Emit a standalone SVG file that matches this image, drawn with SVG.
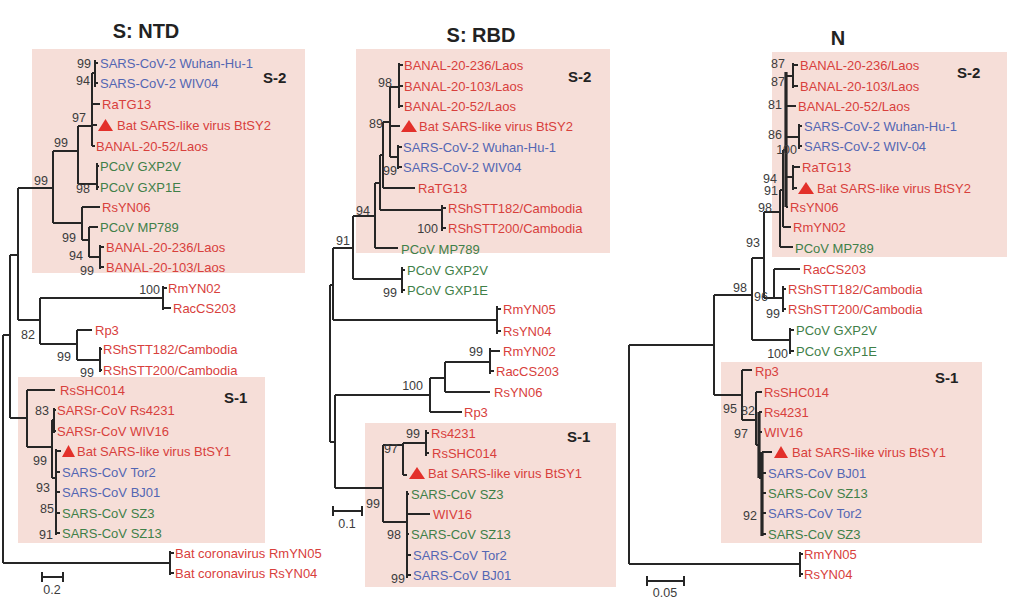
<svg xmlns="http://www.w3.org/2000/svg" width="1029" height="614" viewBox="0 0 1029 614">
<style>
.l{fill:none;stroke:#262626;stroke-width:2}
.tk{fill:none;stroke:#262626;stroke-width:3.2}
text{font-family:"Liberation Sans",Arial,sans-serif}
.r{fill:#d8403c;font-size:13px}
.b{fill:#5366b3;font-size:13px}
.g{fill:#3f8048;font-size:13px}
.n{fill:#3c3c3c;font-size:12.5px;text-anchor:end}
.h{font-size:20px;font-weight:bold;fill:#222;text-anchor:middle}
.c{font-size:15px;font-weight:bold;fill:#222}
.s{fill:#3c3c3c;font-size:12.5px;text-anchor:middle}
.bx{fill:#f6ded8}
.tri{fill:#e3302a}
</style>
<rect width="1029" height="614" fill="#fff"/>
<g id="boxes">
<rect class="bx" x="32" y="49" width="273" height="224"/>
<rect class="bx" x="18" y="377" width="247" height="166"/>
<rect class="bx" x="356" y="49" width="254" height="204"/>
<rect class="bx" x="365" y="423" width="251" height="164"/>
<rect class="bx" x="772" y="52" width="235" height="205"/>
<rect class="bx" x="721" y="362" width="261" height="181"/>
</g>
<g id="titles">
<text class="h" x="146" y="38">S: NTD</text>
<text class="h" x="481" y="42">S: RBD</text>
<text class="h" x="838" y="45">N</text>
<text class="c" x="263" y="83">S-2</text>
<text class="c" x="224" y="403">S-1</text>
<text class="c" x="568" y="82">S-2</text>
<text class="c" x="567" y="442">S-1</text>
<text class="c" x="957" y="78">S-2</text>
<text class="c" x="935" y="383">S-1</text>
</g>
<g id="connectors">
<path class="l" d="M95,60V87M95,63H98M95,83H98M92,73V146M92,73H95M92,104H100M92,125H97M92,146H95M78,126H92M78,126V184M78,184H97M97,163V190M97,166H99M97,187H99M53,151H78M53,151V223M53,223H82M82,207V240M82,207H100M82,240H89M89,227V257M89,227H98M89,257H100M100,245V269M100,247H104M100,267H104M18,188H53M18,188V320M18,320H40M40,298V344M40,298H163M163,286V310M163,288H167M163,308H171M40,344H77M77,330V360M77,330H92M77,360H100M100,347V372M100,349H102M100,370H102M10,255H18M10,255V418M10,418H27M27,390V447M27,390H55M27,447H52M52,420V478M52,420H54M54,408V433M54,410H56M54,431H56M52,478H56M56,449V535M56,451H61M56,472H60M56,492H60M56,513H60M56,533H60M3,335H10M3,335V563M3,563H170M170,551V575M170,553H174M170,573H174"/>
<path class="l" d="M399,63V108M399,65H403M399,86H403M399,106H403M390,87H399M390,87V157M390,126H400M390,157H398M398,145V169M398,147H402M398,167H402M383,122H390M383,122V188M383,188H415M380,155H383M380,155V210M380,210H442M442,205V231M442,208H446M442,228H446M375,183H380M375,183V248M375,248H398M353,216H375M353,216V279M353,279H402M402,267V293M402,270H405M402,290H405M333,248H353M333,248V320M333,320H497M497,306V334M497,309H501M497,331H501M330,285H333M330,285V442M330,442H335M335,395V488M335,395H430M430,378V412M430,378H445M445,362V392M445,362H490M490,348V374M490,351H500M490,371H494M445,392H490M430,412H462M335,488H383M383,445V522M383,445H403M403,443V475M403,443H426M426,430V456M426,433H429M426,453H429M403,475H407M383,522H407M407,491V578M407,494H409M407,514H430M407,534H409M407,555H411M407,575H411"/>
<path class="l" d="M793,63V88M793,65H798M793,86H798M786,76H793M786,106H796M786,137H799M799,124V149M799,126H802M799,146H802M786,177H793M793,165V190M793,167H800M793,188H797M786,207H788M783,150H786M783,150V227M783,227H791M780,190H783M780,190V247M780,247H793M764,212H780M764,212V298M764,298H774M774,269V298M774,269H800M774,298H783M783,286V312M783,289H786M783,309H786M752,258H764M752,258V340M752,340H790M790,328V354M790,330H794M790,351H794M714,295H752M714,295V395M714,395H742M742,370V420M742,370H752M742,420H756M756,392V445M756,392H762M756,445H759M759,412H762M759,432H762M759,478H762M762,452H772M762,473H766M762,493H766M762,513H766M762,534H766M629,345H714M629,345V564M629,564H800M800,552V577M800,554H803M800,574H803"/>
<path class="tk" d="M786,72V207M759,412V478M762,452V536"/>
</g>
<g id="scales">
<path class="l" d="M42,577H63M42,572V582M63,572V582M333,511H362M333,506V516M362,506V516M647,581H684M647,576V586M684,576V586"/>
<text class="s" x="52" y="593.5">0.2</text>
<text class="s" x="347" y="527.5">0.1</text>
<text class="s" x="665" y="596.5">0.05</text>
</g>
<g id="bootstrap">
<text class="n" x="91" y="67.5">99</text>
<text class="n" x="90" y="84.5">94</text>
<text class="n" x="86" y="121.5">97</text>
<text class="n" x="68" y="146.5">99</text>
<text class="n" x="48" y="184.5">99</text>
<text class="n" x="90" y="192.5">98</text>
<text class="n" x="76" y="241.5">99</text>
<text class="n" x="83" y="259.5">94</text>
<text class="n" x="94" y="274.5">99</text>
<text class="n" x="160" y="293.5">100</text>
<text class="n" x="35" y="338.5">82</text>
<text class="n" x="71" y="360.5">99</text>
<text class="n" x="94" y="376.5">99</text>
<text class="n" x="49" y="414.5">83</text>
<text class="n" x="47" y="464.5">99</text>
<text class="n" x="50" y="491.5">93</text>
<text class="n" x="54" y="512.5">85</text>
<text class="n" x="53" y="538.5">91</text>
<text class="n" x="392" y="86.5">98</text>
<text class="n" x="383" y="127.5">89</text>
<text class="n" x="397" y="174.5">99</text>
<text class="n" x="370" y="214.5">94</text>
<text class="n" x="438" y="232.5">100</text>
<text class="n" x="350" y="244.5">91</text>
<text class="n" x="397" y="296.5">99</text>
<text class="n" x="483" y="355.5">99</text>
<text class="n" x="423" y="389.5">100</text>
<text class="n" x="420" y="437.5">99</text>
<text class="n" x="398" y="452.5">97</text>
<text class="n" x="380" y="507.5">99</text>
<text class="n" x="401" y="538.5">98</text>
<text class="n" x="405" y="582.5">99</text>
<text class="n" x="785" y="67.5">87</text>
<text class="n" x="785" y="85.5">87</text>
<text class="n" x="782" y="108.5">81</text>
<text class="n" x="782" y="139">86</text>
<text class="n" x="797" y="153.5">100</text>
<text class="n" x="777" y="182.5">94</text>
<text class="n" x="778" y="194.5">91</text>
<text class="n" x="772" y="211.5">98</text>
<text class="n" x="760" y="246.5">93</text>
<text class="n" x="747" y="291.5">98</text>
<text class="n" x="768" y="300.5">96</text>
<text class="n" x="780" y="317.5">99</text>
<text class="n" x="788" y="357.5">100</text>
<text class="n" x="737" y="412.5">95</text>
<text class="n" x="755" y="414.5">82</text>
<text class="n" x="748" y="437.5">97</text>
<text class="n" x="757" y="519.5">92</text>
</g>
<g id="p1-wuhan"><text class="b" x="100" y="67.5">SARS-CoV-2 Wuhan-Hu-1</text></g>
<g id="p1-wiv04"><text class="b" x="100" y="87.5">SARS-CoV-2 WIV04</text></g>
<g id="p1-ratg13"><text class="r" x="102" y="108.5">RaTG13</text></g>
<g id="p1-btsy2"><polygon class="tri" points="98,131 105.5,119 113,131"/><text class="r" x="117" y="129.5">Bat SARS-like virus BtSY2</text></g>
<g id="p1-banal52"><text class="r" x="96" y="150.5">BANAL-20-52/Laos</text></g>
<g id="p1-gxp2v"><text class="g" x="100" y="170.5">PCoV GXP2V</text></g>
<g id="p1-gxp1e"><text class="g" x="100" y="191.5">PCoV GXP1E</text></g>
<g id="p1-rsyn06"><text class="r" x="102" y="211.5">RsYN06</text></g>
<g id="p1-mp789"><text class="g" x="100" y="231.5">PCoV MP789</text></g>
<g id="p1-banal236"><text class="r" x="106" y="251.5">BANAL-20-236/Laos</text></g>
<g id="p1-banal103"><text class="r" x="106" y="271.5">BANAL-20-103/Laos</text></g>
<g id="p1-rmyn02"><text class="r" x="168" y="292.5">RmYN02</text></g>
<g id="p1-raccs203"><text class="r" x="173" y="312.5">RacCS203</text></g>
<g id="p1-rp3"><text class="r" x="95" y="334.5">Rp3</text></g>
<g id="p1-rshstt182"><text class="r" x="103" y="353.5">RShSTT182/Cambodia</text></g>
<g id="p1-rshstt200"><text class="r" x="103" y="374.5">RShSTT200/Cambodia</text></g>
<g id="p1-rsshc014"><text class="r" x="60" y="394.5">RsSHC014</text></g>
<g id="p1-rs4231"><text class="r" x="57" y="414.5">SARSr-CoV Rs4231</text></g>
<g id="p1-wiv16"><text class="r" x="57" y="435.5">SARSr-CoV WIV16</text></g>
<g id="p1-btsy1"><polygon class="tri" points="62,457 68.5,445 75,457"/><text class="r" x="77" y="455.5">Bat SARS-like virus BtSY1</text></g>
<g id="p1-tor2"><text class="b" x="62" y="476.5">SARS-CoV Tor2</text></g>
<g id="p1-bj01"><text class="b" x="62" y="496.5">SARS-CoV BJ01</text></g>
<g id="p1-sz3"><text class="g" x="62" y="517.5">SARS-CoV SZ3</text></g>
<g id="p1-sz13"><text class="g" x="62" y="537.5">SARS-CoV SZ13</text></g>
<g id="p1-rmyn05"><text class="r" x="175" y="557.5">Bat coronavirus RmYN05</text></g>
<g id="p1-rsyn04"><text class="r" x="175" y="577.5">Bat coronavirus RsYN04</text></g>
<g id="p2-banal236"><text class="r" x="404" y="69.5">BANAL-20-236/Laos</text></g>
<g id="p2-banal103"><text class="r" x="404" y="90.5">BANAL-20-103/Laos</text></g>
<g id="p2-banal52"><text class="r" x="404" y="110.5">BANAL-20-52/Laos</text></g>
<g id="p2-btsy2"><polygon class="tri" points="401,132 409,120 417,132"/><text class="r" x="419" y="130.5">Bat SARS-like virus BtSY2</text></g>
<g id="p2-wuhan"><text class="b" x="403" y="151.5">SARS-CoV-2 Wuhan-Hu-1</text></g>
<g id="p2-wiv04"><text class="b" x="403" y="171.5">SARS-CoV-2 WIV04</text></g>
<g id="p2-ratg13"><text class="r" x="418" y="192.5">RaTG13</text></g>
<g id="p2-rshstt182"><text class="r" x="448" y="212.5">RShSTT182/Cambodia</text></g>
<g id="p2-rshstt200"><text class="r" x="448" y="232.5">RShSTT200/Cambodia</text></g>
<g id="p2-mp789"><text class="g" x="401" y="253.5">PCoV MP789</text></g>
<g id="p2-gxp2v"><text class="g" x="407" y="274.5">PCoV GXP2V</text></g>
<g id="p2-gxp1e"><text class="g" x="407" y="294.5">PCoV GXP1E</text></g>
<g id="p2-rmyn05"><text class="r" x="503" y="313.5">RmYN05</text></g>
<g id="p2-rsyn04"><text class="r" x="503" y="335.5">RsYN04</text></g>
<g id="p2-rmyn02"><text class="r" x="503" y="355.5">RmYN02</text></g>
<g id="p2-raccs203"><text class="r" x="496" y="375.5">RacCS203</text></g>
<g id="p2-rsyn06"><text class="r" x="494" y="396.5">RsYN06</text></g>
<g id="p2-rp3"><text class="r" x="464" y="416.5">Rp3</text></g>
<g id="p2-rs4231"><text class="r" x="431" y="437.5">Rs4231</text></g>
<g id="p2-rsshc014"><text class="r" x="432" y="457.5">RsSHC014</text></g>
<g id="p2-btsy1"><polygon class="tri" points="409,479 417,467 425,479"/><text class="r" x="428" y="477.5">Bat SARS-like virus BtSY1</text></g>
<g id="p2-sz3"><text class="g" x="411" y="498.5">SARS-CoV SZ3</text></g>
<g id="p2-wiv16"><text class="r" x="433" y="518.5">WIV16</text></g>
<g id="p2-sz13"><text class="g" x="411" y="538.5">SARS-CoV SZ13</text></g>
<g id="p2-tor2"><text class="b" x="413" y="559.5">SARS-CoV Tor2</text></g>
<g id="p2-bj01"><text class="b" x="413" y="579.5">SARS-CoV BJ01</text></g>
<g id="p3-banal236"><text class="r" x="800" y="69.5">BANAL-20-236/Laos</text></g>
<g id="p3-banal103"><text class="r" x="800" y="90.5">BANAL-20-103/Laos</text></g>
<g id="p3-banal52"><text class="r" x="798" y="110.5">BANAL-20-52/Laos</text></g>
<g id="p3-wuhan"><text class="b" x="804" y="130.5">SARS-CoV-2 Wuhan-Hu-1</text></g>
<g id="p3-wiv04"><text class="b" x="804" y="150.5">SARS-CoV-2 WIV-04</text></g>
<g id="p3-ratg13"><text class="r" x="802" y="171.5">RaTG13</text></g>
<g id="p3-btsy2"><polygon class="tri" points="798,194 806,182 814,194"/><text class="r" x="817" y="192.5">Bat SARS-like virus BtSY2</text></g>
<g id="p3-rsyn06"><text class="r" x="790" y="211.5">RsYN06</text></g>
<g id="p3-rmyn02"><text class="r" x="793" y="231.5">RmYN02</text></g>
<g id="p3-mp789"><text class="g" x="795" y="252.5">PCoV MP789</text></g>
<g id="p3-raccs203"><text class="r" x="803" y="273.5">RacCS203</text></g>
<g id="p3-rshstt182"><text class="r" x="788" y="293.5">RShSTT182/Cambodia</text></g>
<g id="p3-rshstt200"><text class="r" x="788" y="313.5">RShSTT200/Cambodia</text></g>
<g id="p3-gxp2v"><text class="g" x="796" y="334.5">PCoV GXP2V</text></g>
<g id="p3-gxp1e"><text class="g" x="796" y="355.5">PCoV GXP1E</text></g>
<g id="p3-rp3"><text class="r" x="755" y="375.5">Rp3</text></g>
<g id="p3-rsshc014"><text class="r" x="764" y="396.5">RsSHC014</text></g>
<g id="p3-rs4231"><text class="r" x="764" y="416.5">Rs4231</text></g>
<g id="p3-wiv16"><text class="r" x="764" y="436.5">WIV16</text></g>
<g id="p3-btsy1"><polygon class="tri" points="774,458 781,446 788,458"/><text class="r" x="792" y="456.5">Bat SARS-like virus BtSY1</text></g>
<g id="p3-bj01"><text class="b" x="768" y="477.5">SARS-CoV BJ01</text></g>
<g id="p3-sz13"><text class="g" x="768" y="497.5">SARS-CoV SZ13</text></g>
<g id="p3-tor2"><text class="b" x="768" y="517.5">SARS-CoV Tor2</text></g>
<g id="p3-sz3"><text class="g" x="768" y="538.5">SARS-CoV SZ3</text></g>
<g id="p3-rmyn05"><text class="r" x="804" y="558.5">RmYN05</text></g>
<g id="p3-rsyn04"><text class="r" x="804" y="578.5">RsYN04</text></g>
</svg>
